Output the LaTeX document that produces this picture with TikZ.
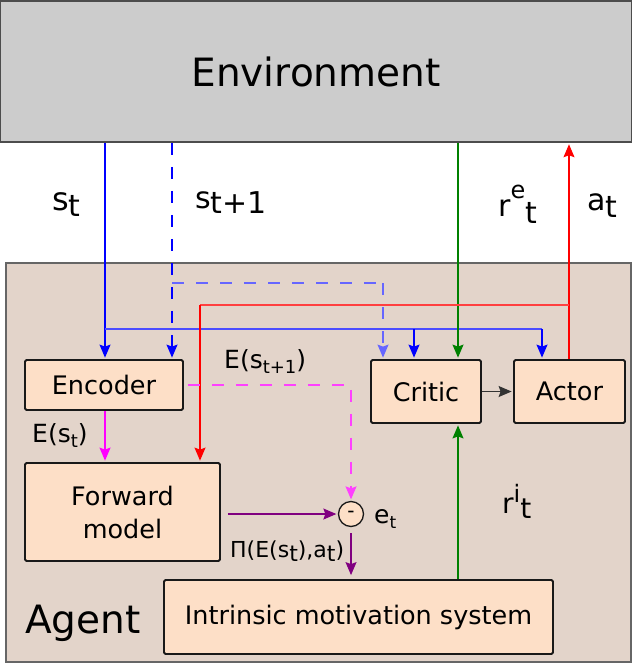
\documentclass[tikz,border=0pt]{standalone}
\usepackage{fontspec}
\setmainfont{DejaVu Sans}
\usetikzlibrary{arrows.meta}
\newcommand\fsz[1]{\fontsize{#1}{#1}\selectfont}
\definecolor{envfill}{HTML}{CCCCCC}
\definecolor{agfill}{HTML}{E3D4CA}
\definecolor{boxfill}{HTML}{FDDFC7}
\definecolor{grn}{HTML}{008000}
\definecolor{mgt}{HTML}{FF00FF}
\definecolor{prp}{HTML}{800080}
\begin{document}
\begin{tikzpicture}[x=1pt,y=-1pt,
  tip/.style={-{Stealth[length=13pt,width=11pt,inset=2pt]},shorten >=1.5pt},
  wire/.style={line width=1.2pt},
  bl/.style={wire,draw=blue},
  bll/.style={wire,draw=blue!70},
  bld/.style={wire,draw=blue,dash pattern=on 12pt off 12pt},
  bldl/.style={wire,draw=blue!60,dash pattern=on 12pt off 12pt},
  gr/.style={wire,draw=grn},
  rd/.style={wire,draw=red},
  rdl/.style={wire,draw=red!75},
  mg/.style={wire,draw=mgt},
  mgd/.style={wire,draw=mgt!75,dash pattern=on 12pt off 12pt},
  pu/.style={wire,draw=prp},
  blk/.style={wire,draw=black!80},
  unit/.style={draw=black!90,line width=1.8pt,fill=boxfill,rounded corners=1.5pt,
    inner sep=0pt,font={\fsz{25.5}},align=center},
  lbl/.style={anchor=base west,inner sep=0pt}
]
\useasboundingbox (0,0) rectangle (632,664);
% big boxes
\node[draw=black!70,line width=1.5pt,fill=envfill,minimum width=631pt,minimum height=141pt,
  inner sep=0pt,font={\fsz{39}}] (env) at (316,71.5) {Environment};
\node[draw=black!60,line width=1.5pt,fill=agfill,minimum width=625pt,minimum height=399pt,
  inner sep=0pt] (agent) at (318.5,462.5) {};
\node[lbl,font={\fsz{39}}] (agtxt) at (25,633) {Agent};
% units
\node[unit,minimum width=158pt,minimum height=50pt] (enc) at (104,385) {Encoder};
\node[unit,minimum width=110pt,minimum height=63pt] (critic) at (426,391.5) {Critic};
\node[unit,minimum width=111pt,minimum height=63pt] (actor) at (569.5,391.5) {Actor};
\node[unit,minimum width=195pt,minimum height=98pt,font={\fontsize{25.5}{33}\selectfont}] (fwd) at (122.5,512) {Forward\\model};
\node[unit,minimum width=389pt,minimum height=74pt] (ims) at (358.5,617) {Intrinsic motivation system};
\node[circle,draw=black!90,line width=1.3pt,fill=boxfill,minimum size=25pt,inner sep=0pt,
  font={\fsz{20}}] (circ) at (351,514) {-};
% junction coordinates
\coordinate (cst) at (105,329);
\coordinate (jc) at (414,329);
\coordinate (ja) at (542,329);
\coordinate (cs1) at (172,283);
\coordinate (jd) at (383,283);
\coordinate (xg) at (458,0);
\coordinate (cre) at (569,305);
\coordinate (xr2) at (200,305);
% s_t
\draw[bl,tip] (env.south -| cst) -- (enc.north -| cst);
\draw[bll] (cst) -- (ja);
\draw[bl,tip] (jc) -- (critic.north -| jc);
\draw[bl,tip] (ja) -- (actor.north -| ja);
% s_{t+1}
\draw[bld,tip] (env.south -| cs1) -- (enc.north -| cs1);
\draw[bldl] (cs1) -- (jd);
\draw[bldl,tip] (jd) -- (critic.north -| jd);
% rewards
\draw[gr,tip] (env.south -| xg) -- (critic.north -| xg);
\draw[gr,tip] (ims.north -| xg) -- (critic.south -| xg);
% actions
\draw[rd,tip] (actor.north -| cre) -- (env.south -| cre);
\draw[rdl] (cre) -- (xr2);
\draw[rd,tip] (xr2) -- (fwd.north -| xr2);
% internal
\draw[blk,tip] (critic.east) -- (actor.west);
\draw[mg,tip] (enc.south -| cst) -- (fwd.north -| cst);
\draw[mgd,tip] ([xshift=4pt]enc.east) -| (circ.north);
\draw[pu,tip] ([xshift=7pt]fwd.east |- circ.west) -- (circ.west);
\draw[pu,tip,shorten <=6pt,shorten >=4pt] (circ.south) -- (ims.north -| circ.south);
% labels
\node[lbl,font={\fsz{30}}] (lst) at (52,210) {{\fsz{32}s}\raisebox{-6pt}{t}};
\node[lbl,font={\fsz{30}}] (lst1) at (195,208) {s\raisebox{-5pt}{t+1}};
\node[lbl,font={\fsz{30}}] (lre) at (498,216) {r\raisebox{18pt}{\fsz{24}e}\raisebox{-7pt}{t}};
\node[lbl,font={\fsz{30}}] (lat) at (587,210) {a\raisebox{-7pt}{t}};
\node[lbl,font={\fsz{28}}] (lri) at (502,513) {r\raisebox{11pt}{\fsz{24}i}\raisebox{-5pt}{t}};
\node[lbl,font={\fsz{25}}] (les1) at (224,368) {E(s\raisebox{-5pt}{\fsz{18}t+1})};
\node[lbl,font={\fsz{25}}] (les) at (32,442) {E(s\raisebox{-5pt}{\fsz{18}t})};
\node[lbl,font={\fsz{22}}] (lpi) at (230,557) {Π(E(s\raisebox{-4pt}{t}),a\raisebox{-4pt}{t})};
\node[lbl,font={\fsz{25}}] (let) at (374,523) {e\raisebox{-5pt}{\fsz{17}t}};
\end{tikzpicture}
\end{document}
